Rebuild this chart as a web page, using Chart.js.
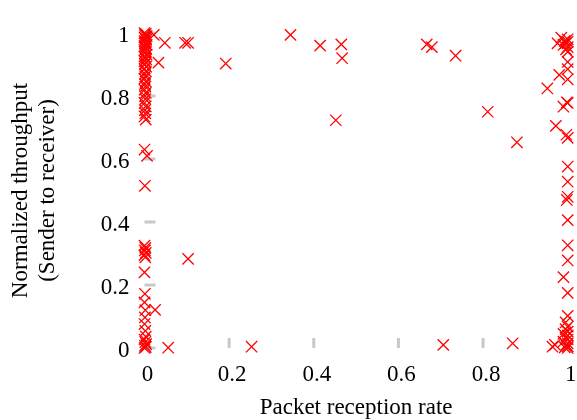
<!DOCTYPE html>
<html>
<head>
<meta charset="utf-8">
<script src="https://cdn.jsdelivr.net/npm/chart.js@4"></script>
<style>
  html, body { margin: 0; padding: 0; background: #fff; overflow: hidden; }
  #wrap { position: relative; width: 577px; height: 420px; }
  #prrChart { display: block; }
</style>
</head>
<body>
<div id="wrap"><canvas id="prrChart"></canvas></div>
<script>
// --- data ---
// links with packet reception rate close to 0
const lowPrrX = [
  0, 0.003, 0.001, 0.005, 0, 0.002, 0.004, 0, 0.003, 0.001, 0.005, 0,
  0.002, 0.004, 0, 0.003, 0.001, 0.005, 0, 0.002, 0.004, 0, 0.003, 0.001,
  0.004, 0, 0.003, 0.001, 0.002, 0, 0.003, 0.001, 0.002, 0, 0.003, 0.001,
  0.002, 0, 0.003, 0.001, 0.002, 0, 0.003,
  0, 0.006, 0.001,
  0, 0.002, 0.001, 0.003, 0, 0.002,
  0,
  0.001, 0, 0.002, 0.001, 0, 0.002,
  0.003, 0, 0.002, 0.004, 0.001, 0.003, 0
];
const lowPrrY = [
  1.0, 0.997, 0.993, 0.99, 0.986, 0.982, 0.978, 0.974, 0.97, 0.966, 0.962, 0.958,
  0.954, 0.95, 0.946, 0.941, 0.936, 0.931, 0.926, 0.921, 0.916, 0.911, 0.906, 0.9,
  0.893, 0.886, 0.878, 0.87, 0.862, 0.855, 0.846, 0.838, 0.83, 0.82, 0.81, 0.8,
  0.79, 0.778, 0.767, 0.755, 0.745, 0.735, 0.725,
  0.63, 0.61, 0.515,
  0.325, 0.318, 0.31, 0.302, 0.295, 0.288,
  0.24,
  0.172, 0.145, 0.12, 0.097, 0.076, 0.054,
  0.036, 0.027, 0.019, 0.012, 0.007, 0.003, 0.0
];

// links with packet reception rate close to 1
const highPrrX = [
  0.985, 1, 0.993, 1, 0.995, 0.99, 1, 0.996, 1,
  1, 1, 1,
  0.998, 1, 0.99,
  0.997, 1,
  1, 1,
  1, 0.998, 1,
  1, 1, 0.99, 1,
  1, 0.995,
  1, 0.995, 1, 0.99, 1, 0.995, 1, 0.99, 1, 0.997, 1, 0.993, 1
];
const highPrrY = [
  0.985, 0.98, 0.975, 0.972, 0.968, 0.962, 0.955, 0.948, 0.94,
  0.908, 0.885, 0.853,
  0.78, 0.778, 0.766,
  0.677, 0.667,
  0.576, 0.528,
  0.48, 0.47, 0.406,
  0.326, 0.278, 0.225, 0.175,
  0.102, 0.081,
  0.068, 0.06, 0.052, 0.045, 0.04, 0.033, 0.027, 0.02, 0.015, 0.01, 0.005, 0.002, 0.0
];

// everything in between
const midPrrX = [
  0.022, 0.048, 0.096, 0.103, 0.033, 0.192, 0.345, 0.415, 0.465, 0.467,
  0.452, 0.667, 0.679, 0.735, 0.811, 0.88, 0.952, 0.972, 0.98, 0.976,
  0.103, 0.025, 0.056, 0.253, 0.706, 0.87, 0.964, 0.97
];
const midPrrY = [
  0.994, 0.969, 0.969, 0.969, 0.906, 0.903, 0.994, 0.96, 0.964, 0.92,
  0.723, 0.964, 0.955, 0.928, 0.75, 0.653, 0.824, 0.705, 0.867, 0.967,
  0.283, 0.121, 0.001, 0.004, 0.01, 0.015, 0.004, 0.01
];

const tickLabels = ["0", "0.2", "0.4", "0.6", "0.8", "1"];

function zipPoints(xs, ys) {
  return xs.map((x, i) => ({ x: x, y: ys[i] }));
}

const allPoints = [
  ...zipPoints(lowPrrX, lowPrrY),
  ...zipPoints(midPrrX, midPrrY),
  ...zipPoints(highPrrX, highPrrY),
];

// short grey ticks drawn inside the plot, like gnuplot does
const innerTicks = {
  id: "innerTicks",
  beforeDatasetsDraw(chart) {
    const { ctx, scales } = chart;
    const xs = scales.x, ys = scales.y;
    ctx.save();
    ctx.strokeStyle = "#c8c8c8";
    ctx.lineWidth = 3;
    xs.ticks.forEach((t) => {
      const px = xs.getPixelForValue(t.value);
      ctx.beginPath();
      ctx.moveTo(px, ys.bottom);
      ctx.lineTo(px, ys.bottom - 10);
      ctx.stroke();
    });
    ys.ticks.forEach((t) => {
      const py = ys.getPixelForValue(t.value);
      ctx.beginPath();
      ctx.moveTo(xs.left, py);
      ctx.lineTo(xs.left + 11, py);
      ctx.stroke();
    });
    ctx.restore();
  },
};

const serif = "'Liberation Serif', 'DejaVu Serif', serif";

new Chart(document.getElementById("prrChart"), {
  type: "scatter",
  data: {
    datasets: [
      {
        data: allPoints,
        pointStyle: "crossRot",
        radius: 8,
        borderColor: "#ff0000",
        backgroundColor: "#ff0000",
        borderWidth: 1.3,
        clip: false,
      },
    ],
  },
  options: {
    responsive: true,
    maintainAspectRatio: false,
    animation: false,
    events: [],
    layout: { padding: { top: 33, right: 8.5, bottom: 0, left: 0 } },
    plugins: { legend: { display: false }, tooltip: { enabled: false } },
    scales: {
      x: {
        type: "linear",
        min: 0,
        max: 1,
        border: { display: false },
        grid: { display: false, drawTicks: false },
        ticks: {
          stepSize: 0.2,
          padding: 13,
          labelOffset: 3,
          color: "#000",
          font: { family: serif, size: 23 },
          callback: (v, i) => tickLabels[i],
        },
        title: {
          display: true,
          text: "Packet reception rate",
          color: "#000",
          font: { family: serif, size: 23 },
          padding: { top: 0, bottom: -2 },
        },
        afterFit: (s) => {
          s.height = 72;
          // don't let the end labels eat into the plot width
          s.paddingLeft = 0;
          s.paddingRight = 0;
        },
      },
      y: {
        type: "linear",
        min: 0,
        max: 1,
        border: { display: false },
        grid: { display: false, drawTicks: false },
        ticks: {
          stepSize: 0.2,
          padding: 15,
          labelOffset: 3,
          color: "#000",
          font: { family: serif, size: 23 },
          callback: (v, i) => tickLabels[i],
        },
        title: {
          display: true,
          text: ["Normalized throughput", "(Sender to receiver)"],
          color: "#000",
          font: { family: serif, size: 23, lineHeight: 1.15 },
          padding: { top: 8, bottom: 0 },
        },
        afterFit: (s) => { s.width = 144.5; },
      },
    },
  },
  plugins: [innerTicks],
});
</script>
</body>
</html>
